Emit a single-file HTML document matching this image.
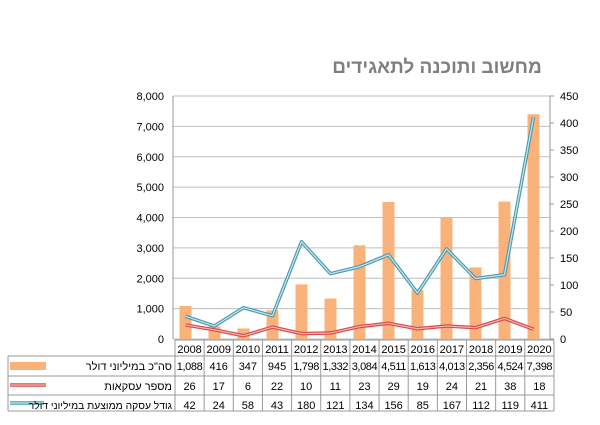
<!DOCTYPE html>
<html><head><meta charset="utf-8"><style>
body{margin:0;background:#fff;width:600px;height:420px;overflow:hidden}
text{font-family:"Liberation Sans","DejaVu Sans",sans-serif}
</style></head><body>
<svg id="s" width="600" height="420" xmlns="http://www.w3.org/2000/svg">
<text x="437" y="73" text-anchor="middle" font-size="19" font-weight="bold" fill="#7f7f7f" font-family="Liberation Sans, DejaVu Sans, sans-serif">מחשוב ותוכנה לתאגידים</text>
</svg>
<script>
const s=document.getElementById('s');
const NS='http://www.w3.org/2000/svg';
function el(t,a,txt){const e=document.createElementNS(NS,t);for(const k in a)e.setAttribute(k,a[k]);if(txt!==undefined)e.textContent=txt;s.appendChild(e);return e;}
const L=173,R=550,T=96,B=339,H=B-T;
const yrs=[2008,2009,2010,2011,2012,2013,2014,2015,2016,2017,2018,2019,2020];
const tot=[1088,416,347,945,1798,1332,3084,4511,1613,4013,2356,4524,7398];
const cnt=[26,17,6,22,10,11,23,29,19,24,21,38,18];
const avg=[42,24,58,43,180,121,134,156,85,167,112,119,411];
for(let i=0;i<=8;i++){const y=B-i*H/8;el('line',{x1:L,x2:R,y1:y,y2:y,stroke:'#bfbfbf','stroke-width':1});
el('text',{x:164,y:y+4,'text-anchor':'end','font-size':11,fill:'#000'},(i*1000).toLocaleString('en-US'));}
for(let i=0;i<=9;i++){const y=B-i*H/9;el('line',{x1:R,x2:R+4,y1:y,y2:y,stroke:'#999'});
el('text',{x:560,y:y+4,'font-size':11,fill:'#000'},String(i*50));}
el('line',{x1:L,x2:L,y1:T,y2:B,stroke:'#999'});
el('line',{x1:R,x2:R,y1:T,y2:B,stroke:'#999'});
const cw=(R-L)/13;
tot.forEach((v,i)=>{const cx=L+cw*(i+0.5)-2;const h=v/8000*H;el('rect',{x:cx-6,y:B-h,width:12,height:h,fill:'#f9b37a'});});
function line(arr,col,inner){let p=arr.map((v,i)=>(L+cw*(i+0.5)-2)+','+(B-v/450*H)).join(' ');
el('polyline',{points:p,fill:'none',stroke:col,'stroke-width':3.5,'stroke-linejoin':'round'});
el('polyline',{points:p,fill:'none',stroke:inner,'stroke-width':1.2,'stroke-linejoin':'round'});}
line(cnt,'#d9494a','#f2b8b8');
line(avg,'#4a9ab0','#c8e6ee');
const tl=175,tw=29.15,rows=[340,356,376,395,411];
const tr=tl+tw*13;
el('line',{x1:tl,x2:tr,y1:340,y2:340,stroke:'#999'});
for(let r=1;r<rows.length;r++)el('line',{x1:8,x2:tr,y1:rows[r],y2:rows[r],stroke:'#999'});
el('line',{x1:8,x2:8,y1:356,y2:411,stroke:'#999'});
for(let i=0;i<=13;i++)el('line',{x1:tl+tw*i,x2:tl+tw*i,y1:340,y2:411,stroke:'#999'});
const data=[tot.map(v=>v.toLocaleString('en-US')),cnt.map(String),avg.map(String)];
yrs.forEach((y,i)=>el('text',{x:tl+tw*(i+0.5),y:353,'text-anchor':'middle','font-size':11,fill:'#000'},String(y)));
data.forEach((row,r)=>row.forEach((v,i)=>el('text',{x:tl+tw*(i+0.5),y:rows[r+1]+14,'text-anchor':'middle','font-size':11,fill:'#000','letter-spacing':v.length>4?'-0.4':'0'},v)));
el('rect',{x:10,y:362,width:36,height:8,fill:'#f9b37a'});
el('line',{x1:10,x2:46,y1:385,y2:385,stroke:'#d9494a','stroke-width':3.5});
el('line',{x1:10,x2:46,y1:385,y2:385,stroke:'#f2b8b8','stroke-width':1.2});
el('line',{x1:10,x2:44,y1:403,y2:403,stroke:'#4a9ab0','stroke-width':3.5});
el('line',{x1:10,x2:44,y1:403,y2:403,stroke:'#c8e6ee','stroke-width':1.2});
const labs=['סה"כ במיליוני דולר','מספר עסקאות','גודל עסקה ממוצעת במיליוני דולר'];
labs.forEach((t,r)=>el('text',{x:172,y:rows[r+1]+14,'text-anchor':'end','font-size':r==2?10.3:11,fill:'#000'},t));
</script>
</body></html>
